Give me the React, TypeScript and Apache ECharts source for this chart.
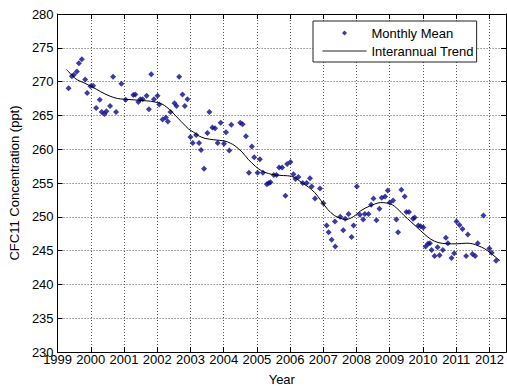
import { useEffect, useRef } from "react";
import * as echarts from "echarts";

// Monthly mean CFC-11 mixing ratio (ppt), by decimal year
const monthTimes = [
  1999.33, 1999.43, 1999.49, 1999.58, 1999.64, 1999.73, 1999.83, 1999.89, 1999.99,
  2000.07, 2000.16, 2000.27, 2000.33, 2000.41, 2000.47, 2000.58, 2000.67, 2000.76, 2000.92,
  2001.05, 2001.28, 2001.34, 2001.43, 2001.49, 2001.56, 2001.68, 2001.75, 2001.82, 2001.90,
  2002.01, 2002.06, 2002.16, 2002.26, 2002.32, 2002.40, 2002.52, 2002.58, 2002.66, 2002.76, 2002.83, 2002.91,
  2003.00, 2003.07, 2003.17, 2003.26, 2003.32, 2003.41, 2003.51, 2003.57, 2003.66, 2003.74, 2003.82, 2003.91,
  2004.01, 2004.07, 2004.17, 2004.23, 2004.50, 2004.57, 2004.67, 2004.76, 2004.85, 2004.92,
  2005.02, 2005.09, 2005.18, 2005.30, 2005.36, 2005.41, 2005.51, 2005.59, 2005.67, 2005.76, 2005.86, 2005.91,
  2006.01, 2006.10, 2006.16, 2006.25, 2006.38, 2006.50, 2006.60, 2006.65, 2006.75, 2006.90,
  2007.00, 2007.10, 2007.16, 2007.25, 2007.35, 2007.36, 2007.51, 2007.60, 2007.66, 2007.76, 2007.85, 2007.91,
  2008.01, 2008.10, 2008.20, 2008.25, 2008.36, 2008.44, 2008.51, 2008.60, 2008.69, 2008.76, 2008.86, 2008.94,
  2009.00, 2009.10, 2009.20, 2009.25, 2009.35, 2009.45, 2009.50, 2009.58, 2009.70, 2009.75, 2009.86, 2009.93,
  2010.01, 2010.08, 2010.15, 2010.21, 2010.26, 2010.35, 2010.44, 2010.50, 2010.60, 2010.69, 2010.75, 2010.86, 2010.94,
  2011.01, 2011.10, 2011.19, 2011.30, 2011.35, 2011.49, 2011.57, 2011.65, 2011.82,
  2012.00, 2012.07, 2012.20,
];

const monthlyMean = [
  269.0, 270.8, 271.0, 271.5, 272.7, 273.3, 270.3, 268.3, 269.3,
  269.4, 266.1, 267.3, 265.5, 265.2, 265.6, 266.4, 270.7, 265.5, 269.7,
  267.3, 268.0, 268.1, 267.0, 267.4, 267.4, 267.9, 265.9, 271.1, 267.4,
  267.9, 266.6, 264.4, 264.7, 264.1, 265.5, 266.8, 266.4, 270.7, 268.1, 266.4, 267.4,
  261.8, 260.9, 262.1, 260.9, 259.9, 257.1, 262.4, 265.5, 263.2, 263.1, 260.9, 263.9,
  260.8, 262.5, 259.8, 263.6, 263.9, 263.7, 261.9, 256.5, 260.4, 258.8,
  256.5, 258.5, 256.5, 254.8, 255.0, 255.1, 256.2, 256.2, 257.3, 257.3, 253.1, 257.8,
  258.1, 256.3, 255.6, 255.9, 255.0, 255.0, 255.7, 254.5, 252.7, 254.2,
  252.0, 248.7, 247.7, 246.6, 249.3, 245.6, 250.0, 248.0, 249.7, 250.4, 247.0, 248.7,
  254.5, 250.3, 249.6, 250.4, 250.4, 251.8, 252.7, 249.5, 251.2, 252.8, 253.0, 253.9,
  252.1, 252.4, 249.6, 247.7, 254.0, 253.0, 250.7, 250.7, 249.7, 249.9, 248.7, 248.6,
  248.4, 245.6, 246.0, 246.1, 245.1, 244.2, 245.5, 244.3, 245.1, 246.9, 246.1, 243.9, 244.6,
  249.3, 248.8, 248.2, 244.2, 247.4, 244.5, 244.2, 246.1, 250.2,
  245.3, 244.7, 243.5,
];

// Smoothed interannual trend
const trendTimes = [
  1999.27, 1999.55, 1999.8, 2000.05, 2000.3, 2000.55, 2000.8, 2001.0, 2001.3, 2001.55, 2001.8, 2002.0,
  2002.14, 2002.29, 2002.45, 2002.64, 2002.8, 2002.94, 2003.1, 2003.24, 2003.44, 2003.7, 2004.04,
  2004.2, 2004.34, 2004.55, 2004.74, 2004.95, 2005.14, 2005.35, 2005.54, 2005.8, 2006.04, 2006.2,
  2006.34, 2006.55, 2006.74, 2006.93, 2007.13, 2007.33, 2007.5, 2007.68, 2007.9, 2008.13, 2008.4,
  2008.73, 2009.03, 2009.25, 2009.43, 2009.63, 2009.83, 2010.03, 2010.23, 2010.45, 2010.73,
  2011.0, 2011.32, 2011.5, 2011.67, 2011.85, 2012.02, 2012.17, 2012.32,
];

const trendValues = [
  271.8, 270.4, 269.8, 269.2, 268.5, 267.9, 267.5, 267.4, 267.3, 267.2, 267.1, 266.9,
  266.7, 266.2, 265.5, 264.5, 263.7, 263.0, 262.5, 262.0, 261.6, 261.4, 261.2,
  260.9, 260.5, 259.6, 258.5, 257.5, 256.8, 256.4, 256.2, 256.1, 256.0, 255.6,
  255.1, 254.4, 253.6, 252.4, 251.1, 250.2, 249.8, 249.6, 250.0, 250.9, 251.6,
  252.1, 251.9, 251.1, 250.2, 249.3, 248.4, 247.5, 246.7, 246.2, 246.0,
  246.0, 246.1, 246.0, 245.7, 245.3, 244.7, 244.1, 243.5,
];

const yearMin = 1999;
const yearMax = 2012.5;
const concMin = 230;
const concMax = 280;

const FONT = "'Liberation Sans', Arial, Helvetica, sans-serif";
const MARKER_COLOR = "#0a0a8e";
// Diamond drawn as a path so the legend keeps its aspect ratio
const DIAMOND = "path://M0,-1L1,0L0,1L-1,0Z";

export default function App() {
  const ref = useRef<HTMLDivElement>(null);

  useEffect(() => {
    if (!ref.current) return;
    const chart = echarts.init(ref.current, undefined, { renderer: "svg" });

    const gridLine = { show: true, lineStyle: { color: "#555", type: [1, 2] as any, width: 1 } };
    const axisLine = { show: true, onZero: false, lineStyle: { color: "#000", width: 1 } };
    const tick = { show: true, inside: true, length: 5, lineStyle: { color: "#000" } };

    chart.setOption({
      animation: false,
      backgroundColor: "#fff",
      textStyle: { fontFamily: FONT },
      grid: { left: 54, top: 14, right: 1, bottom: 38, containLabel: false },
      legend: {
        orient: "vertical",
        left: 313,
        top: 21,
        padding: [5, 3, 4, 9],
        itemGap: 4,
        itemWidth: 44,
        itemHeight: 5,
        symbolKeepAspect: true,
        borderColor: "#222",
        borderWidth: 1,
        backgroundColor: "#fff",
        textStyle: { fontFamily: FONT, fontSize: 13, color: "#000", lineHeight: 14 },
        data: [
          { name: "Monthly Mean", icon: DIAMOND },
          {
            name: "Interannual Trend",
            itemStyle: { color: "rgba(0,0,0,0)", borderWidth: 0 },
            lineStyle: { width: 1, color: "#222" },
          },
        ],
      },
      xAxis: [
        {
          type: "value",
          min: yearMin,
          max: yearMax,
          interval: 1,
          position: "bottom",
          name: "Year",
          nameLocation: "middle",
          nameGap: 21,
          nameTextStyle: { fontFamily: FONT, fontSize: 13, color: "#000" },
          axisLine,
          axisTick: tick,
          axisLabel: {
            fontFamily: FONT,
            fontSize: 13,
            color: "#000",
            margin: 1,
            showMaxLabel: false,
            formatter: (v: number) => (Number.isInteger(v) ? String(v) : ""),
          },
          splitLine: gridLine,
        },
        {
          type: "value",
          min: yearMin,
          max: yearMax,
          interval: 1,
          position: "top",
          axisLine,
          axisTick: tick,
          axisLabel: { show: false },
          splitLine: { show: false },
        },
      ],
      yAxis: [
        {
          type: "value",
          min: concMin,
          max: concMax,
          interval: 5,
          position: "left",
          name: "CFC11 Concentration (ppt)",
          nameLocation: "middle",
          nameRotate: 90,
          nameGap: 33,
          nameTextStyle: { fontFamily: FONT, fontSize: 13, color: "#000" },
          axisLine,
          axisTick: tick,
          axisLabel: { fontFamily: FONT, fontSize: 13, color: "#000", margin: 4 },
          splitLine: gridLine,
        },
        {
          type: "value",
          min: concMin,
          max: concMax,
          interval: 5,
          position: "right",
          axisLine,
          axisTick: tick,
          axisLabel: { show: false },
          splitLine: { show: false },
        },
      ],
      series: [
        {
          name: "Monthly Mean",
          type: "scatter",
          xAxisIndex: 0,
          yAxisIndex: 0,
          symbol: "diamond",
          symbolSize: 6,
          itemStyle: { color: MARKER_COLOR },
          data: monthTimes.map((t, i) => [t, monthlyMean[i]]),
        },
        {
          name: "Interannual Trend",
          type: "line",
          xAxisIndex: 0,
          yAxisIndex: 0,
          symbol: "none",
          smooth: 0.3,
          lineStyle: { color: "#000", width: 1 },
          data: trendTimes.map((t, i) => [t, trendValues[i]]),
        },
      ],
    });

    return () => chart.dispose();
  }, []);

  return (
    <div
      ref={ref}
      style={{ position: "absolute", left: 0, top: 0, width: 507, height: 391 }}
    />
  );
}
